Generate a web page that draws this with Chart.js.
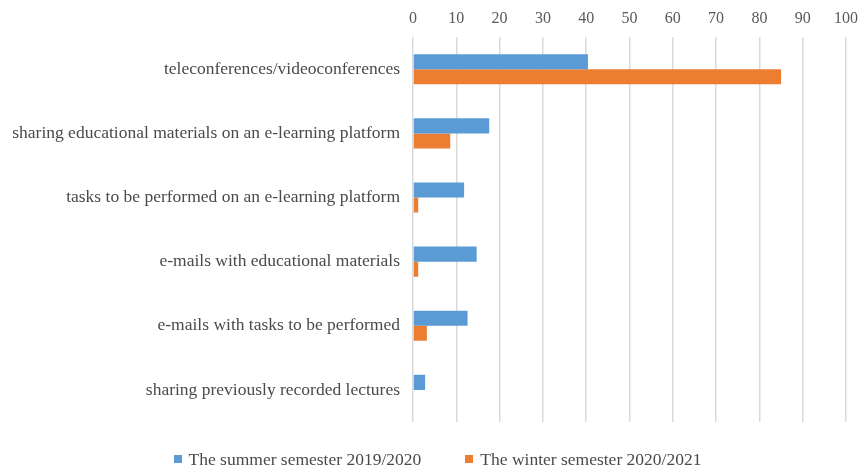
<!DOCTYPE html>
<html>
<head>
<meta charset="utf-8">
<script src="https://cdn.jsdelivr.net/npm/chart.js@4/dist/chart.umd.min.js"></script>
<style>
  html, body { margin: 0; padding: 0; background: #fff; }
  #wrap { position: relative; width: 861px; height: 467px; }
  #legend {
    position: absolute; left: 0; right: 0; top: 447px;
    display: flex; justify-content: center; gap: 44px;
    font-family: 'Liberation Serif', 'Times New Roman', serif;
    font-size: 17.5px; color: #4a4a4a; line-height: 24px;
    padding-left: 14px;
  }
  #legend span.item { display: flex; align-items: center; }
  #legend i { display: inline-block; width: 8px; height: 8px; margin-right: 7px; }
</style>
</head>
<body>
<div id="wrap">
  <canvas id="formsChart"></canvas>
  <div id="legend"></div>
</div>
<script>
const categories = [
    'teleconferences/videoconferences',
    'sharing educational materials on an e-learning platform',
    'tasks to be performed on an e-learning platform',
    'e-mails with educational materials',
    'e-mails with tasks to be performed',
    'sharing previously recorded lectures'
];
const summer = [40.4, 17.6, 11.8, 14.7, 12.6, 2.8];
const winter = [85, 8.6, 1.2, 1.2, 3.2, 0];
const xTicks = [0, 10, 20, 30, 40, 50, 60, 70, 80, 90, 100];

const serif = "'Liberation Serif', 'Times New Roman', serif";

const data = {
    labels: categories,
    datasets: [
        {
            label: 'The summer semester 2019/2020',
            data: summer,
            backgroundColor: '#5B9BD5',
        },
        {
            label: 'The winter semester 2020/2021',
            data: winter,
            backgroundColor: '#ED7D31',
        },
    ]
};

const config = {
    type: 'bar',
    data: data,
    options: {
        indexAxis: 'y',
        responsive: true,
        maintainAspectRatio: false,
        animation: false,
        layout: { padding: { left: 0, right: 0, top: 0, bottom: 45 } },
        datasets: {
            bar: { categoryPercentage: 0.47, barPercentage: 1.0 }
        },
        plugins: {
            legend: { display: false },
            tooltip: { enabled: false }
        },
        scales: {
            x: {
                position: 'top',
                min: 0,
                max: 100,
                afterBuildTicks: axis => {
                    axis.ticks = xTicks.map(v => ({ value: v }));
                },
                // keep only half of the "100" label as room on the right
                afterFit: axis => { axis.paddingRight = 15; },
                grid: { color: '#d9d9d9', lineWidth: 1.5, drawTicks: false },
                border: { display: false },
                ticks: {
                    padding: 9,
                    color: '#595959',
                    font: { family: serif, size: 16 }
                }
            },
            y: {
                afterFit: axis => { axis.width = 413; },
                grid: { display: false, drawTicks: false },
                border: { display: false },
                ticks: {
                    padding: 13,
                    color: '#4a4a4a',
                    font: { family: serif, size: 17.5 }
                }
            }
        }
    }
};

const chart = new Chart(document.getElementById('formsChart').getContext('2d'), config);

// legend built from the datasets, laid out below the canvas
const legendEl = document.getElementById('legend');
chart.data.datasets.forEach(ds => {
    const item = document.createElement('span');
    item.className = 'item';
    const box = document.createElement('i');
    box.style.background = ds.backgroundColor;
    item.appendChild(box);
    item.appendChild(document.createTextNode(ds.label));
    legendEl.appendChild(item);
});
</script>
</body>
</html>
